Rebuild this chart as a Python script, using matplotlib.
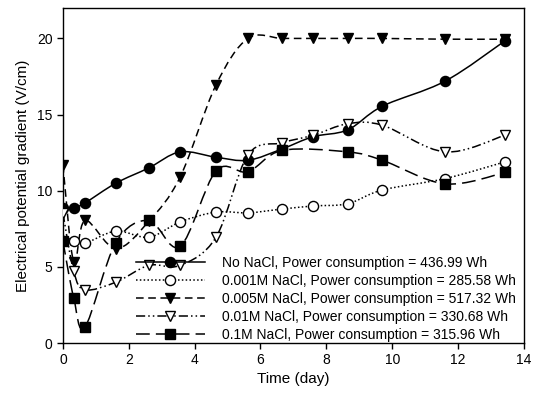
import numpy as np
import matplotlib
matplotlib.use("Agg")
import matplotlib.pyplot as plt
from matplotlib.path import Path
from matplotlib.patches import PathPatch

plt.rcParams['font.family'] = ['Liberation Sans', 'DejaVu Sans']

# ---- data ----
days_all = [0, 0.33, 0.67, 1.61, 2.61, 3.56, 4.65, 5.62, 6.66, 7.6, 8.65, 9.7, 11.61, 13.43]
days_01 = [0, 0.33, 0.67, 1.61, 2.61, 3.56, 4.65, 5.62, 6.66, 8.65, 9.7, 11.61, 13.43]

no_nacl = [8.88, 8.88, 9.2, 10.5, 11.5, 12.55, 12.2, 12.0, 12.75, 13.55, 14.0, 15.55, 17.2, 19.85]
nacl_0001 = [6.7, 6.7, 6.55, 7.35, 6.95, 7.95, 8.6, 8.55, 8.8, 9.0, 9.15, 10.05, 10.8, 11.9]
nacl_0005 = [11.7, 5.3, 8.05, 6.2, 8.0, 10.9, 16.95, 20.0, 20.0, 20.0, 20.0, 20.0, 19.95, 19.95]
nacl_001 = [8.55, 4.7, 3.5, 4.0, 5.1, 5.1, 6.95, 12.35, 13.15, 13.65, 14.4, 14.3, 12.55, 13.65]
nacl_01 = [6.7, 2.95, 1.05, 6.6, 8.05, 6.35, 11.3, 11.25, 12.65, 12.55, 12.0, 10.45, 11.2]

labels = ["No NaCl, Power consumption = 436.99 Wh",
          "0.001M NaCl, Power consumption = 285.58 Wh",
          "0.005M NaCl, Power consumption = 517.32 Wh",
          "0.01M NaCl, Power consumption = 330.68 Wh",
          "0.1M NaCl, Power consumption = 315.96 Wh"]

x_ticks = [0, 2, 4, 6, 8, 10, 12, 14]
y_ticks = [0, 5, 10, 15, 20]

series = [
    (days_all, no_nacl, dict(ls='-', marker='o', mfc='black')),
    (days_all, nacl_0001, dict(ls=(0, (1, 1.5)), marker='o', mfc='white')),
    (days_all, nacl_0005, dict(ls=(0, (5, 3)), marker='v', mfc='black')),
    (days_all, nacl_001, dict(ls=(0, (6, 2, 1, 2, 1, 2)), marker='v', mfc='white')),
    (days_01, nacl_01, dict(ls=(0, (9, 4)), marker='s', mfc='black')),
]


def smooth_path(x, y):
    """Catmull-Rom curve through the data points, as cubic Bezier segments."""
    P = np.column_stack([x, y]).astype(float)
    n = len(P)
    verts = [P[0]]
    codes = [Path.MOVETO]
    for i in range(n - 1):
        p0 = P[i - 1] if i > 0 else P[i]
        p1 = P[i]
        p2 = P[i + 1]
        p3 = P[i + 2] if i + 2 < n else P[i + 1]
        c1 = p1 + (p2 - p0) / 6.0
        c2 = p2 - (p3 - p1) / 6.0
        verts += [c1, c2, p2]
        codes += [Path.CURVE4] * 3
    return Path(verts, codes)


fig = plt.figure(figsize=(5.33, 3.98), dpi=100)
ax = fig.add_axes([0.118, 0.138, 0.865, 0.842])

handles = []
for (x, y, st), lab in zip(series, labels):
    ms = 7.3 if st['marker'] != 's' else 6.5
    patch = PathPatch(smooth_path(x, y), facecolor='none', edgecolor='black',
                      lw=1.1, linestyle=st['ls'], zorder=2)
    ax.add_patch(patch)
    ax.plot(x, y, linestyle='none', marker=st['marker'], mfc=st['mfc'],
            mec='black', mew=1.0, ms=ms, zorder=3)
    h, = ax.plot([], [], color='black', lw=1.1, linestyle=st['ls'],
                 marker=st['marker'], mfc=st['mfc'], mec='black', mew=1.0, ms=ms)
    handles.append(h)

ax.set_xlim(0, 14)
ax.set_ylim(0, 22)
ax.set_xticks(x_ticks)
ax.set_yticks(y_ticks)
ax.tick_params(labelsize=10, direction='out', length=4, width=1)
for s in ax.spines.values():
    s.set_linewidth(1.0)

ax.set_xlabel("Time (day)", fontsize=11, labelpad=3)
ax.set_ylabel("Electrical potential gradient (V/cm)", fontsize=11, labelpad=5)

leg = ax.legend(handles, labels, loc='lower left', bbox_to_anchor=(0.155, 0.0),
                frameon=False, fontsize=10, handlelength=5.0, handletextpad=1.2,
                labelspacing=0.28, borderpad=0.1, borderaxespad=0.0, numpoints=1)

fig.savefig("out.png", dpi=100)
